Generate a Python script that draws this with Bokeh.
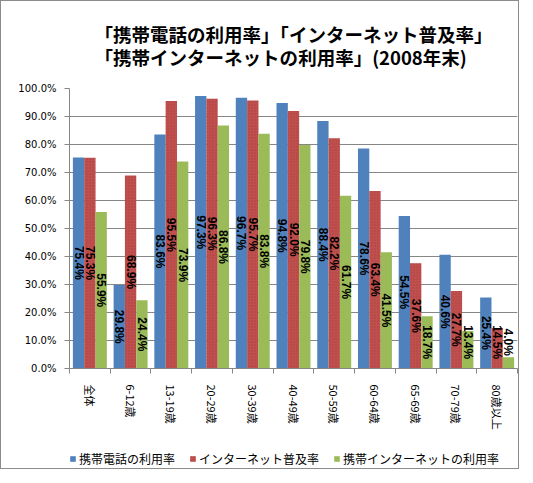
import math
from bokeh.plotting import figure
from bokeh.layouts import column
from bokeh.models import (ColumnDataSource, Range1d, FixedTicker, PrintfTickFormatter,
                          Legend, LegendItem)
from bokeh.core.properties import value
from bokeh.embed import file_html
from bokeh.resources import INLINE

# 年齢層
categories = ["全体", "6-12歳", "13-19歳", "20-29歳", "30-39歳", "40-49歳",
              "50-59歳", "60-64歳", "65-69歳", "70-79歳", "80歳以上"]

# 利用率 (%)
mobile_rate = [75.4, 29.8, 83.6, 97.3, 96.7, 94.8, 88.4, 78.6, 54.5, 40.6, 25.4]
internet_rate = [75.3, 68.9, 95.5, 96.3, 95.7, 92.0, 82.2, 63.4, 37.6, 27.7, 14.5]
mobile_net_rate = [55.9, 24.4, 73.9, 86.8, 83.8, 79.8, 61.7, 41.5, 18.7, 13.4, 4.0]

series_names = ["携帯電話の利用率", "インターネット普及率", "携帯インターネットの利用率"]
y_ticks = [0, 10, 20, 30, 40, 50, 60, 70, 80, 90, 100]

colors = ["#4F81BD", "#C0504D", "#9BBB59"]
grid_gray = "#868686"
jp_font = "Noto Sans CJK JP"

n = len(categories)
centers = [i + 0.5 for i in range(n)]
bar_w = 0.278

p = figure(width=517, height=443, output_backend="svg", toolbar_location=None,
           x_range=Range1d(0, n), y_range=Range1d(0, 100),
           min_border_left=68, min_border_right=1, min_border_top=84,
           min_border_bottom=76)

# タイトル (2行)
p.title.text = "「携帯電話の利用率」「インターネット普及率」\n「携帯インターネットの利用率」(2008年末)"
p.title.align = "center"
p.title.offset = -33
p.title.standoff = 36
p.title.text_line_height = 0.9
p.title.text_font = jp_font
p.title.text_font_size = "18.5px"
p.title.text_color = "black"

p.outline_line_color = None
p.xgrid.grid_line_color = None
p.ygrid.grid_line_color = grid_gray
p.ygrid.ticker = FixedTicker(ticks=y_ticks)

# y軸
p.yaxis.ticker = FixedTicker(ticks=y_ticks)
p.yaxis.formatter = PrintfTickFormatter(format="%.1f%%")
p.yaxis.axis_line_color = grid_gray
p.yaxis.major_tick_line_color = grid_gray
p.yaxis.major_tick_in = 0
p.yaxis.major_tick_out = 5
p.yaxis.minor_tick_line_color = None
p.yaxis.major_label_standoff = 8
p.yaxis.major_label_text_font = "DejaVu Sans"
p.yaxis.major_label_text_font_size = "10px"
p.yaxis.major_label_text_color = "black"

# x軸 (目盛りは区切り位置、ラベルは中央)
p.xaxis.ticker = FixedTicker(ticks=centers, minor_ticks=list(range(n + 1)))
p.xaxis.major_label_overrides = {c: cat for c, cat in zip(centers, categories)}
p.xaxis.axis_line_color = grid_gray
p.xaxis.major_tick_line_color = None
p.xaxis.major_tick_in = 0
p.xaxis.major_tick_out = 0
p.xaxis.minor_tick_line_color = grid_gray
p.xaxis.minor_tick_in = 0
p.xaxis.minor_tick_out = 5
p.xaxis.major_label_orientation = -math.pi / 2
p.xaxis.major_label_standoff = 11
p.xaxis.major_label_text_font = jp_font
p.xaxis.major_label_text_font_size = "11px"
p.xaxis.major_label_text_color = "black"

all_series = [mobile_rate, internet_rate, mobile_net_rate]
for k, (vals, col) in enumerate(zip(all_series, colors)):
    xs = [c + (k - 1) * bar_w for c in centers]
    # ラベルは棒の中央、低い棒では軸の下にはみ出さないよう持ち上げる
    src = ColumnDataSource(dict(x=xs, top=vals, mid=[max(v / 2, 9.4) for v in vals],
                                label=["%.1f%%" % v for v in vals]))
    extra = {}
    if k == 1:
        extra = dict(hatch_pattern=".", hatch_color="#9e3b38", hatch_scale=3,
                     hatch_alpha=0.6)
    p.vbar(x="x", top="top", width=bar_w, source=src, fill_color=col,
           line_color=None, **extra)
    p.text(x="x", y="mid", text="label", source=src, angle=-math.pi / 2,
           text_align="center", text_baseline="middle",
           text_font=value("Liberation Sans"), text_font_style="bold",
           text_font_size="12px", text_color="black")

# 凡例 (下の細い図に置く; 高さ0の見えない棒を凡例用に使う)
leg = figure(width=517, height=24, output_backend="svg", toolbar_location=None,
             x_range=Range1d(0, 1), y_range=Range1d(0, 1),
             x_axis_type=None, y_axis_type=None, min_border=0)
leg.grid.visible = False
leg.outline_line_color = None
items = []
for k, (name, col) in enumerate(zip(series_names, colors)):
    extra = {}
    if k == 1:
        extra = dict(hatch_pattern=".", hatch_color="#9e3b38", hatch_scale=3,
                     hatch_alpha=0.6)
    r = leg.vbar(x=[0.5], top=[0], width=0.1, fill_color=col, line_color=None,
                 **extra)
    items.append(LegendItem(label=name, renderers=[r]))

legend = Legend(items=items, orientation="horizontal", location=(0, 1),
                label_text_font=jp_font, label_text_font_size="12px",
                label_text_color="black", glyph_width=7, glyph_height=7,
                label_standoff=3, spacing=14, padding=1, margin=0,
                border_line_color=None, background_fill_color=None)
leg.add_layout(legend)

page = column(p, leg, styles={"border": "1px solid #8c8c8c"})
open("out.html", "w").write(file_html(page, INLINE))
